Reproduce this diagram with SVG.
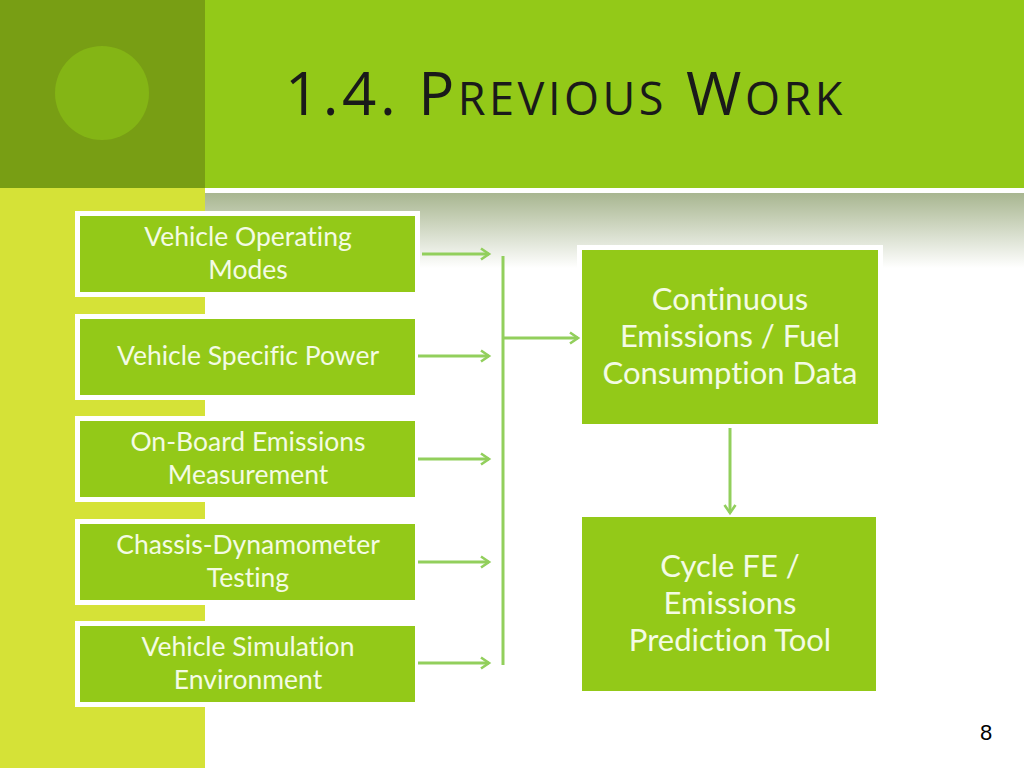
<svg xmlns="http://www.w3.org/2000/svg" width="1024" height="768" viewBox="0 0 1024 768">
<defs>
<linearGradient id="band" x1="0" y1="0" x2="0" y2="1">
<stop offset="0" stop-color="#a8b690"/>
<stop offset="1" stop-color="#ffffff"/>
</linearGradient>
<marker id="ah" markerWidth="14" markerHeight="14" refX="11" refY="7" orient="auto" markerUnits="userSpaceOnUse">
<path d="M3,1.5 L11,7 L3,12.5" fill="none" stroke="#92cf5c" stroke-width="2.6"/>
</marker>
<style>
.box{fill:#93c918;stroke:#ffffff;stroke-width:5}
.t{font-family:Lato,"Open Sans",sans-serif;fill:#f4fbe4;text-anchor:middle;font-variant-ligatures:none;font-feature-settings:"liga" 0}
.s{font-size:26.5px}
.l{font-size:31px}
.c{fill:none;stroke:#92cf5c;stroke-width:3}
</style>
</defs>
<rect width="1024" height="768" fill="#ffffff"/>
<rect x="205" y="193" width="819" height="75" fill="url(#band)"/>
<rect x="0" y="188" width="205" height="580" fill="#d5e237"/>
<rect x="0" y="0" width="205" height="188" fill="#789e14"/>
<circle cx="102" cy="93" r="47" fill="#84b515"/>
<rect x="205" y="0" width="819" height="188" fill="#93c918"/>
<text x="285" y="115" font-family="'Open Sans','DejaVu Sans',sans-serif" fill="#1a1a1a" letter-spacing="3.5" font-size="60">1.4. P<tspan font-size="45">REVIOUS</tspan> W<tspan font-size="45">ORK</tspan></text>

<g id="n1"><rect class="box" x="77.5" y="213.5" width="340" height="81"/><text class="t s" x="248" y="246">Vehicle Operating</text><text class="t s" x="248" y="279">Modes</text></g>
<g id="n2"><rect class="box" x="77.5" y="316.5" width="340" height="81"/><text class="t s" x="248" y="365">Vehicle Specific Power</text></g>
<g id="n3"><rect class="box" x="77.5" y="418.5" width="340" height="81"/><text class="t s" x="248" y="451">On-Board Emissions</text><text class="t s" x="248" y="484">Measurement</text></g>
<g id="n4"><rect class="box" x="77.5" y="521.5" width="340" height="81"/><text class="t s" x="248" y="554">Chassis-Dynamometer</text><text class="t s" x="248" y="587">Testing</text></g>
<g id="n5"><rect class="box" x="77.5" y="623.5" width="340" height="81"/><text class="t s" x="248" y="656">Vehicle Simulation</text><text class="t s" x="248" y="689">Environment</text></g>

<g id="n6"><rect class="box" x="579.5" y="247.5" width="301" height="179"/><text class="t l" x="730" y="310">Continuous</text><text class="t l" x="730" y="347">Emissions / Fuel</text><text class="t l" x="730" y="384">Consumption Data</text></g>
<g id="n7"><rect class="box" x="579.5" y="514.5" width="299" height="179"/><text class="t l" x="730" y="577">Cycle FE /</text><text class="t l" x="730" y="614">Emissions</text><text class="t l" x="730" y="651">Prediction Tool</text></g>

<g id="connectors">
<line class="c" x1="422" y1="254" x2="489" y2="254" marker-end="url(#ah)"/>
<line class="c" x1="418" y1="356" x2="489" y2="356" marker-end="url(#ah)"/>
<line class="c" x1="418" y1="459" x2="489" y2="459" marker-end="url(#ah)"/>
<line class="c" x1="418" y1="562" x2="489" y2="562" marker-end="url(#ah)"/>
<line class="c" x1="418" y1="663" x2="489" y2="663" marker-end="url(#ah)"/>
<line class="c" x1="503" y1="256" x2="503" y2="665"/>
<line class="c" x1="503" y1="338" x2="578" y2="338" marker-end="url(#ah)"/>
<line class="c" x1="730" y1="428" x2="730" y2="513" marker-end="url(#ah)"/>
</g>
<text x="986" y="740" font-family="'Liberation Sans',sans-serif" font-size="22" fill="#000" text-anchor="middle">8</text>
</svg>
